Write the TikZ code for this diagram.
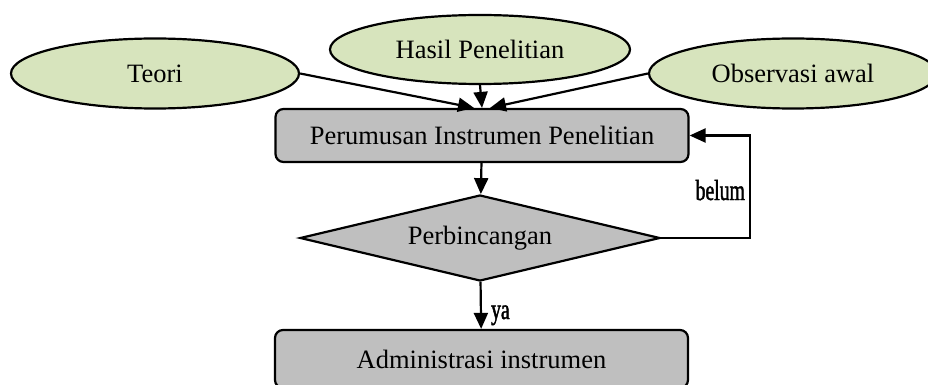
\documentclass[tikz,border=0pt]{standalone}
\usepackage{fontspec}
\setmainfont{Liberation Serif}
\newfontfamily\narrowfont[FakeStretch=0.68,FakeBold=1.5]{Liberation Serif}
\usetikzlibrary{shapes.geometric, arrows.meta, positioning}
\definecolor{daun}{HTML}{D7E4BD}
\definecolor{abu}{HTML}{BFBFBF}

\begin{document}
\begin{tikzpicture}[x=1pt, y=-1pt, line width=2.2pt,
    oval/.style={draw, ellipse, fill=daun, inner sep=0pt, minimum height=70pt},
    kotak/.style={draw, rounded corners=8pt, fill=abu, minimum width=413pt, minimum height=53pt},
    panah/.style={-{Triangle[length=16pt,width=14pt]}},
    label/.style={font=\narrowfont\fontsize{29}{30}\selectfont, inner sep=1pt},
    font=\fontsize{26.5}{30}\selectfont]
    \clip (0,0) rectangle (928,385);
    % Sumber-sumber di atas
    \node[oval, minimum width=288pt] (teori) at (155,73.5) {Teori};
    \node[oval, minimum width=300pt, minimum height=69pt] (hasil) at (480,49.5) {Hasil Penelitian};
    \node[oval, minimum width=288pt] (obs) at (793,73.5) {Observasi awal};
    % Langkah-langkah
    \node[kotak] (rumus) at (482,135.5) {Perumusan Instrumen Penelitian};
    \node[draw, diamond, aspect=4.19, fill=abu, inner sep=0pt, minimum width=360pt, minimum height=86pt] (bincang) at (480,238) {Perbincangan};
    \node[kotak, minimum height=58pt] (admin) at (481.5,359) {Administrasi instrumen};
    % Panah masuk
    \draw[panah] (teori.east) -- ([xshift=-8pt]rumus.north);
    \draw[panah] (hasil.south) -- (rumus.north);
    \draw[panah] (obs.west) -- ([xshift=8pt]rumus.north);
    \draw[panah] (rumus) -- (bincang);
    \draw[panah] (bincang) -- (admin);
    % Putaran balik
    \coordinate (balik) at (750,238);
    \draw[panah] (bincang.east) -- (balik) |- (rumus.east);
    \node[label, anchor=base east] (belum) at (747,200) {belum};
    \node[label, anchor=base west] (ya) at (489,319) {ya};
\end{tikzpicture}
\end{document}
